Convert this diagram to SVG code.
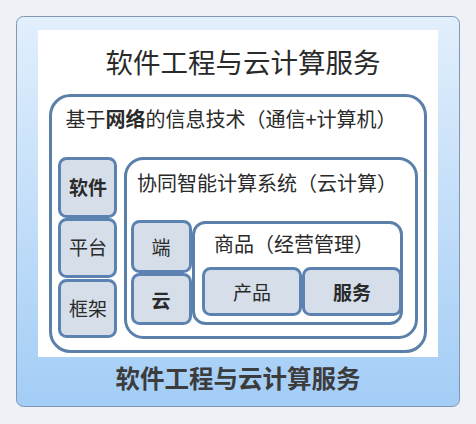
<svg xmlns="http://www.w3.org/2000/svg" width="476" height="424" viewBox="0 0 476 424">
<defs>
<linearGradient id="card" x1="0" y1="0" x2="0" y2="1">
<stop offset="0" stop-color="#e2effc"/>
<stop offset="1" stop-color="#a3cdf6"/>
</linearGradient>
</defs>
<style>
text{font-family:"Noto Sans CJK SC","Noto Sans",sans-serif;text-anchor:middle;dominant-baseline:central;fill:#2a2a2a}
.box{fill:#ffffff;stroke:#5b80aa;stroke-width:3}
.cell{fill:#d5dee9;stroke:#5b82b0;stroke-width:3}
.lbl{font-size:19px}
.b{font-weight:bold}
</style>
<rect x="0" y="0" width="476" height="424" fill="#eef1f5"/>
<rect x="16.5" y="16.5" width="443" height="390" rx="7" fill="url(#card)" stroke="#7f97b2" stroke-width="1"/>
<rect x="38" y="30" width="400" height="327" fill="#ffffff"/>
<text x="243" y="61" font-size="27.5">软件工程与云计算服务</text>
<g id="net">
<rect class="box" x="50.5" y="95.5" width="375" height="256" rx="20"/>
<text x="231" y="118" font-size="20">基于<tspan font-weight="bold">网络</tspan>的信息技术（通信+计算机）</text>
</g>
<g id="soft"><rect class="cell" x="59.5" y="158.5" width="56" height="58" rx="7"/><text class="lbl b" x="88" y="186">软件</text></g>
<g id="plat"><rect class="cell" x="59.5" y="219.5" width="56" height="57" rx="7"/><text class="lbl" x="88" y="246">平台</text></g>
<g id="frame"><rect class="cell" x="59.5" y="280.5" width="56" height="56" rx="7"/><text class="lbl" x="88" y="307">框架</text></g>
<g id="collab">
<rect class="box" x="125.5" y="158.5" width="291" height="179" rx="18"/>
<text x="267" y="182" font-size="20">协同智能计算系统（云计算）</text>
</g>
<g id="duan"><rect class="cell" x="132.5" y="221.5" width="58" height="50" rx="7"/><text class="lbl" x="161" y="246">端</text></g>
<g id="yun"><rect class="cell" x="132.5" y="274.5" width="58" height="49" rx="7"/><text class="lbl b" x="161" y="299">云</text></g>
<g id="goods">
<rect class="box" x="193.5" y="222.5" width="208" height="101" rx="12"/>
<text x="294" y="243" font-size="20">商品（经营管理）</text>
</g>
<g id="product"><rect class="cell" x="203.5" y="268.5" width="97" height="46" rx="7"/><text class="lbl" x="252" y="291">产品</text></g>
<g id="service"><rect class="cell" x="303.5" y="268.5" width="97" height="46" rx="7"/><text class="lbl b" x="352" y="291">服务</text></g>
<g id="connectors"></g>
<text x="238" y="377" font-size="24.5" font-weight="bold" style="fill:#3c3c3c">软件工程与云计算服务</text>
</svg>
